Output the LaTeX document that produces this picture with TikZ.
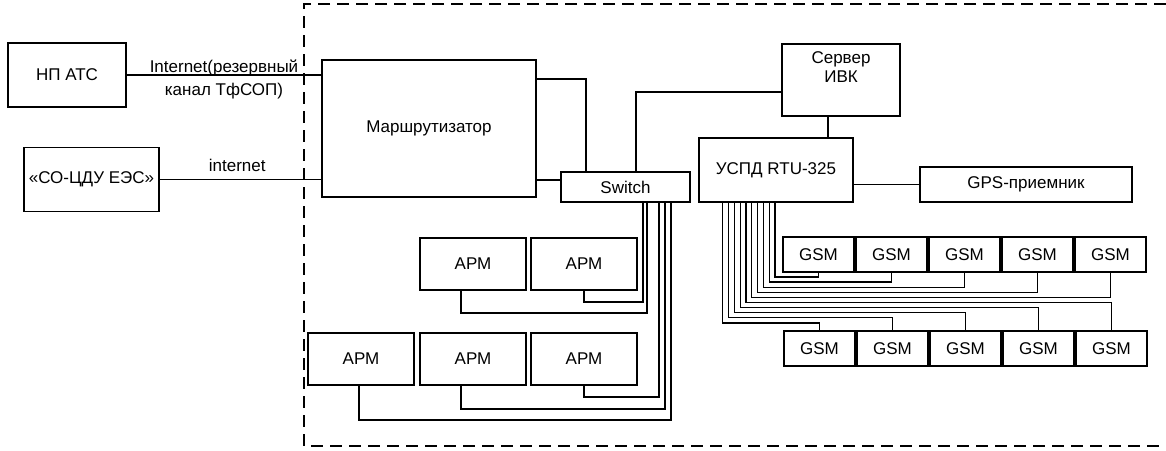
\documentclass[tikz,border=0pt]{standalone}
\usepackage{fontspec}
\setmainfont{Liberation Sans}
\usetikzlibrary{positioning,calc}

\begin{document}
\begin{tikzpicture}[
  x=1pt, y=-1pt,
  font=\fontsize{17}{19}\selectfont,
  unit/.style={draw, line width=1.6pt, inner sep=0pt, outer sep=0pt, align=center},
  gsm/.style={unit, minimum width=71pt, minimum height=35pt},
  arm/.style={unit, minimum width=106pt, minimum height=52pt},
  wire/.style={line width=1.3pt},
  zone/.style={line width=1.5pt, dash pattern=on 12pt off 7pt},
  lab/.style={inner sep=0pt, anchor=base}
]
\useasboundingbox (0,0) rectangle (1166,450);

\node[unit, minimum width=118pt, minimum height=64pt] (NP) at (67,75) {НП АТС};
\node[unit, minimum width=135pt, minimum height=64pt] (SO) at (91.5,179.5) {«СО-ЦДУ ЕЭС»};
\node[unit, minimum width=214pt, minimum height=137pt] (R) at (429,128.5) {Маршрутизатор};
\node[unit, minimum width=129pt, minimum height=30pt] (SW) at (625.5,187) {Switch};
\node[unit, minimum width=118pt, minimum height=72pt] (SRV) at (841,80) {};
\node[align=center, inner sep=0pt, below=7pt of SRV.north] (SRVt) {Сервер\\ИВК};
\node[unit, minimum width=154pt, minimum height=64pt] (U) at (776,170) {УСПД RTU-325};
\node[unit, minimum width=212pt, minimum height=35pt] (GPS) at (1026,184.5) {GPS-приемник};

\node[gsm] (Gt1) at (818.5,254.5) {GSM};
\node[gsm] (Gb1) at (819.5,348.5) {GSM};
\foreach \i [count=\j from 2] in {1,...,4} {
  \node[gsm, right=2pt of Gt\i] (Gt\j) {GSM};
  \node[gsm, right=2pt of Gb\i] (Gb\j) {GSM};
}

\node[arm] (A1b) at (584,264) {АРМ};
\node[arm, left=5pt of A1b] (A1a) {АРМ};
\node[arm] (A2b) at (584,359) {АРМ};
\node[arm, left=5pt of A2b] (A2a) {АРМ};
\node[arm, left=6pt of A2a] (A2c) {АРМ};

\draw[wire] (NP.east) -- (NP.east -| R.west)
  node[lab, midway, yshift=3pt] {Internet(резервный}
  node[lab, midway, yshift=-20pt] {канал ТфСОП)};
\draw[wire] (SO.east) -- (SO.east -| R.west)
  node[lab, pos=0.48, yshift=8pt] {internet};

\coordinate (swin) at ($(SW.west)+(0,-7)$);
\draw[wire] (swin) -- (swin -| R.east);
\draw[wire] ($(SW.north west)+(25,0)$) |- ($(R.north east)+(0,19)$);
\draw[wire] ($(SW.north west)+(75,0)$) |- ($(SRV.west)+(0,12)$);
\coordinate (sv) at ($(SRV.south)+(-13,0)$);
\draw[wire] (sv) -- (sv |- U.north);
\draw[wire] (GPS.west) -- (GPS.west -| U.east);

\foreach \k in {0,...,4} {
  \pgfmathtruncatemacro\g{\k+1}
  \draw[wire] ($(U.south west)+(76-5.8*\k,0)$) |- ($(Gt\g.south)+(0,5+5.1*\k)$) -- (Gt\g.south);
}
\foreach \k in {5,...,9} {
  \pgfmathtruncatemacro\g{10-\k}
  \draw[wire] ($(U.south west)+(76-5.8*\k,0)$) |- ($(Gb\g.north)+(0,-54+5.1*\k)$) -- (Gb\g.north);
}

\foreach \p/\a/\dx/\dy in {82/A1b/0/12, 86/A1a/-12/23, 98/A2b/0/12, 104/A2a/-12/24, 110/A2c/-2/35}
  \draw[wire] ($(SW.south west)+(\p,0)$) |- ($(\a.south)+(\dx,\dy)$) -- ($(\a.south)+(\dx,0)$);

\draw[zone] (1166,4) -- (304,4) -- (304,446) -- (1166,446);
\end{tikzpicture}
\end{document}
